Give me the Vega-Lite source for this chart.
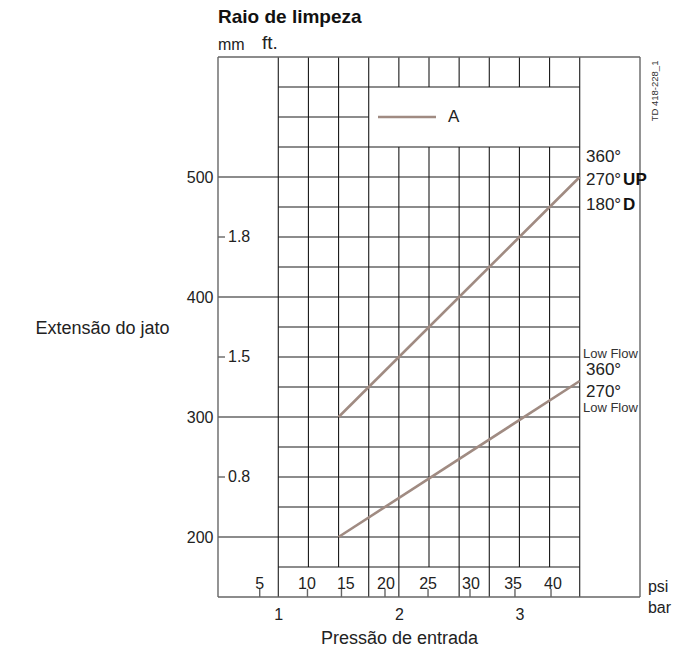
{
  "$schema": "https://vega.github.io/schema/vega-lite/v6.json",
  "width": 422,
  "height": 540,
  "autosize": {"type": "none"},
  "padding": {"left": 218, "top": 57, "right": 47, "bottom": 57},
  "background": "white",
  "config": {"view": {"stroke": null}, "font": "Liberation Sans"},
  "datasets": {
    "segments": [
      {"kind": "frame", "x1": 0.5, "x2": 4.0, "y1": 600, "y2": 600},
      {"kind": "frame", "x1": 0.5, "x2": 4.0, "y1": 150, "y2": 150},
      {"kind": "frame", "x1": 0.5, "x2": 0.5, "y1": 150, "y2": 600},
      {"kind": "frame", "x1": 4.0, "x2": 4.0, "y1": 150, "y2": 600},
      {"kind": "grid", "x1": 1.0, "x2": 3.5, "y1": 575, "y2": 575},
      {"kind": "grid", "x1": 1.0, "x2": 1.75, "y1": 550, "y2": 550},
      {"kind": "grid", "x1": 1.0, "x2": 3.5, "y1": 525, "y2": 525},
      {"kind": "grid", "x1": 0.5, "x2": 3.5, "y1": 500, "y2": 500},
      {"kind": "grid", "x1": 1.0, "x2": 3.5, "y1": 475, "y2": 475},
      {"kind": "grid", "x1": 1.0, "x2": 3.5, "y1": 450, "y2": 450},
      {"kind": "grid", "x1": 1.0, "x2": 3.5, "y1": 425, "y2": 425},
      {"kind": "grid", "x1": 0.5, "x2": 3.5, "y1": 400, "y2": 400},
      {"kind": "grid", "x1": 1.0, "x2": 3.5, "y1": 375, "y2": 375},
      {"kind": "grid", "x1": 1.0, "x2": 3.5, "y1": 350, "y2": 350},
      {"kind": "grid", "x1": 1.0, "x2": 3.5, "y1": 325, "y2": 325},
      {"kind": "grid", "x1": 0.5, "x2": 3.5, "y1": 300, "y2": 300},
      {"kind": "grid", "x1": 1.0, "x2": 3.5, "y1": 275, "y2": 275},
      {"kind": "grid", "x1": 1.0, "x2": 3.5, "y1": 250, "y2": 250},
      {"kind": "grid", "x1": 1.0, "x2": 3.5, "y1": 225, "y2": 225},
      {"kind": "grid", "x1": 0.5, "x2": 3.5, "y1": 200, "y2": 200},
      {"kind": "grid", "x1": 1.0, "x2": 3.5, "y1": 175, "y2": 175},
      {"kind": "grid", "x1": 1.0, "x2": 1.0, "y1": 150, "y2": 600},
      {"kind": "grid", "x1": 1.25, "x2": 1.25, "y1": 175, "y2": 600},
      {"kind": "grid", "x1": 1.5, "x2": 1.5, "y1": 175, "y2": 600},
      {"kind": "grid", "x1": 1.75, "x2": 1.75, "y1": 150, "y2": 600},
      {"kind": "grid", "x1": 2.0, "x2": 2.0, "y1": 150, "y2": 525},
      {"kind": "grid", "x1": 2.0, "x2": 2.0, "y1": 575, "y2": 600},
      {"kind": "grid", "x1": 2.25, "x2": 2.25, "y1": 175, "y2": 525},
      {"kind": "grid", "x1": 2.25, "x2": 2.25, "y1": 575, "y2": 600},
      {"kind": "grid", "x1": 2.5, "x2": 2.5, "y1": 150, "y2": 525},
      {"kind": "grid", "x1": 2.5, "x2": 2.5, "y1": 575, "y2": 600},
      {"kind": "grid", "x1": 2.75, "x2": 2.75, "y1": 150, "y2": 525},
      {"kind": "grid", "x1": 2.75, "x2": 2.75, "y1": 575, "y2": 600},
      {"kind": "grid", "x1": 3.0, "x2": 3.0, "y1": 175, "y2": 525},
      {"kind": "grid", "x1": 3.0, "x2": 3.0, "y1": 575, "y2": 600},
      {"kind": "grid", "x1": 3.25, "x2": 3.25, "y1": 175, "y2": 525},
      {"kind": "grid", "x1": 3.25, "x2": 3.25, "y1": 575, "y2": 600},
      {"kind": "grid", "x1": 3.5, "x2": 3.5, "y1": 150, "y2": 600},
      {"kind": "tick", "x1": 0.846, "x2": 0.846, "y1": 150, "y2": 156.7},
      {"kind": "tick", "x1": 1.242, "x2": 1.242, "y1": 150, "y2": 156.7},
      {"kind": "tick", "x1": 1.524, "x2": 1.524, "y1": 150, "y2": 156.7},
      {"kind": "tick", "x1": 1.885, "x2": 1.885, "y1": 150, "y2": 156.7},
      {"kind": "tick", "x1": 2.242, "x2": 2.242, "y1": 150, "y2": 156.7},
      {"kind": "tick", "x1": 2.59, "x2": 2.59, "y1": 150, "y2": 156.7},
      {"kind": "tick", "x1": 2.963, "x2": 2.963, "y1": 150, "y2": 156.7},
      {"kind": "tick", "x1": 3.262, "x2": 3.262, "y1": 150, "y2": 156.7},
      {"kind": "tick", "x1": 0.5, "x2": 0.558, "y1": 450, "y2": 450},
      {"kind": "tick", "x1": 0.5, "x2": 0.558, "y1": 350, "y2": 350},
      {"kind": "tick", "x1": 0.5, "x2": 0.558, "y1": 250, "y2": 250}
    ],
    "curves": [
      {"series": "A", "bar": 1.5, "mm": 300},
      {"series": "A", "bar": 3.5, "mm": 500},
      {"series": "Low Flow", "bar": 1.5, "mm": 200},
      {"series": "Low Flow", "bar": 3.5, "mm": 330},
      {"series": "legend", "bar": 1.827, "mm": 550},
      {"series": "legend", "bar": 2.308, "mm": 550}
    ],
    "notes": [
      {"style": "psi", "bar": 0.846, "mm": 160.8, "label": "5"},
      {"style": "psi", "bar": 1.238, "mm": 160.8, "label": "10"},
      {"style": "psi", "bar": 1.56, "mm": 160.8, "label": "15"},
      {"style": "psi", "bar": 1.893, "mm": 160.8, "label": "20"},
      {"style": "psi", "bar": 2.242, "mm": 160.8, "label": "25"},
      {"style": "psi", "bar": 2.598, "mm": 160.8, "label": "30"},
      {"style": "psi", "bar": 2.947, "mm": 160.8, "label": "35"},
      {"style": "psi", "bar": 3.278, "mm": 160.8, "label": "40"},
      {"style": "left", "bar": 0.583, "mm": 450, "label": "1.8"},
      {"style": "left", "bar": 0.583, "mm": 350, "label": "1.5"},
      {"style": "left", "bar": 0.583, "mm": 250, "label": "0.8"},
      {"style": "left", "bar": 4.066, "mm": 158.3, "label": "psi"},
      {"style": "left", "bar": 4.066, "mm": 140.8, "label": "bar"},
      {"style": "left", "bar": 0.5, "mm": 610, "label": "mm"},
      {"style": "ann", "bar": 2.408, "mm": 550, "label": "A"},
      {"style": "ann", "bar": 3.552, "mm": 516.7, "label": "360°"},
      {"style": "ann", "bar": 3.552, "mm": 497.5, "label": "270°"},
      {"style": "ann", "bar": 3.552, "mm": 476.7, "label": "180°"},
      {"style": "ann", "bar": 3.552, "mm": 339.2, "label": "360°"},
      {"style": "ann", "bar": 3.552, "mm": 320.8, "label": "270°"},
      {"style": "annbold", "bar": 3.86, "mm": 497.5, "label": "UP"},
      {"style": "annbold", "bar": 3.86, "mm": 476.7, "label": "D"},
      {"style": "small", "bar": 3.527, "mm": 352.5, "label": "Low Flow"},
      {"style": "small", "bar": 3.527, "mm": 307.5, "label": "Low Flow"},
      {"style": "ft", "bar": 0.865, "mm": 611.7, "label": "ft."},
      {"style": "title", "bar": 0.5, "mm": 633.3, "label": "Raio de limpeza"},
      {"style": "code", "bar": 4.124, "mm": 571.7, "label": "TD 418-228_1"}
    ]
  },
  "layer": [
    {
      "data": {"name": "segments"},
      "transform": [{"filter": "datum.kind === 'grid'"}],
      "mark": {"type": "rule", "color": "#1a1a1a", "strokeWidth": 1.1},
      "encoding": {
        "x": {
          "field": "x1", "type": "quantitative",
          "scale": {"domain": [0.5, 4.0], "nice": false, "zero": false},
          "axis": {
            "values": [1, 2, 3], "format": "d", "ticks": false, "domain": false, "grid": false,
            "labelFontSize": 16, "labelColor": "#222", "labelPadding": 9,
            "title": "Pressão de entrada", "titleFontSize": 18, "titleFontWeight": "normal",
            "titleColor": "#222", "titleX": 181, "titleY": 41, "titleBaseline": "middle",
            "titleAlign": "center"
          }
        },
        "x2": {"field": "x2"},
        "y": {
          "field": "y1", "type": "quantitative",
          "scale": {"domain": [150, 600], "nice": false, "zero": false},
          "axis": {
            "values": [200, 300, 400, 500], "ticks": false, "domain": false, "grid": false,
            "labelFontSize": 16, "labelColor": "#222", "labelPadding": 5,
            "title": "Extensão do jato", "titleFontSize": 18, "titleFontWeight": "normal",
            "titleColor": "#222", "titleAngle": 0, "titleAlign": "left",
            "titleBaseline": "middle", "titleX": -183, "titleY": 271
          }
        },
        "y2": {"field": "y2"}
      }
    },
    {
      "data": {"name": "segments"},
      "transform": [{"filter": "datum.kind !== 'grid'"}],
      "mark": {"type": "rule", "color": "#666", "strokeWidth": 1.4},
      "encoding": {
        "x": {"field": "x1", "type": "quantitative"},
        "x2": {"field": "x2"},
        "y": {"field": "y1", "type": "quantitative"},
        "y2": {"field": "y2"}
      }
    },
    {
      "data": {"name": "curves"},
      "mark": {"type": "line", "color": "#a08b82", "strokeWidth": 2.6},
      "encoding": {
        "x": {"field": "bar", "type": "quantitative"},
        "y": {"field": "mm", "type": "quantitative"},
        "detail": {"field": "series"}
      }
    },
    {
      "data": {"name": "notes"},
      "transform": [{"filter": "datum.style === 'psi'"}],
      "mark": {"type": "text", "fontSize": 16, "color": "#222", "align": "center", "baseline": "middle"},
      "encoding": {
        "x": {"field": "bar", "type": "quantitative"},
        "y": {"field": "mm", "type": "quantitative"},
        "text": {"field": "label"}
      }
    },
    {
      "data": {"name": "notes"},
      "transform": [{"filter": "datum.style === 'left'"}],
      "mark": {"type": "text", "fontSize": 16, "color": "#222", "align": "left", "baseline": "middle"},
      "encoding": {
        "x": {"field": "bar", "type": "quantitative"},
        "y": {"field": "mm", "type": "quantitative"},
        "text": {"field": "label"}
      }
    },
    {
      "data": {"name": "notes"},
      "transform": [{"filter": "datum.style === 'ann'"}],
      "mark": {"type": "text", "fontSize": 17, "color": "#222", "align": "left", "baseline": "middle"},
      "encoding": {
        "x": {"field": "bar", "type": "quantitative"},
        "y": {"field": "mm", "type": "quantitative"},
        "text": {"field": "label"}
      }
    },
    {
      "data": {"name": "notes"},
      "transform": [{"filter": "datum.style === 'annbold'"}],
      "mark": {"type": "text", "fontSize": 17, "fontWeight": "bold", "color": "#111", "align": "left", "baseline": "middle"},
      "encoding": {
        "x": {"field": "bar", "type": "quantitative"},
        "y": {"field": "mm", "type": "quantitative"},
        "text": {"field": "label"}
      }
    },
    {
      "data": {"name": "notes"},
      "transform": [{"filter": "datum.style === 'small'"}],
      "mark": {"type": "text", "fontSize": 13, "color": "#333", "align": "left", "baseline": "middle"},
      "encoding": {
        "x": {"field": "bar", "type": "quantitative"},
        "y": {"field": "mm", "type": "quantitative"},
        "text": {"field": "label"}
      }
    },
    {
      "data": {"name": "notes"},
      "transform": [{"filter": "datum.style === 'ft'"}],
      "mark": {"type": "text", "fontSize": 19, "color": "#222", "align": "left", "baseline": "middle"},
      "encoding": {
        "x": {"field": "bar", "type": "quantitative"},
        "y": {"field": "mm", "type": "quantitative"},
        "text": {"field": "label"}
      }
    },
    {
      "data": {"name": "notes"},
      "transform": [{"filter": "datum.style === 'title'"}],
      "mark": {"type": "text", "fontSize": 19, "fontWeight": "bold", "color": "#111", "align": "left", "baseline": "middle"},
      "encoding": {
        "x": {"field": "bar", "type": "quantitative"},
        "y": {"field": "mm", "type": "quantitative"},
        "text": {"field": "label"}
      }
    },
    {
      "data": {"name": "notes"},
      "transform": [{"filter": "datum.style === 'code'"}],
      "mark": {"type": "text", "fontSize": 9.5, "color": "#333", "align": "center", "baseline": "middle", "angle": 270},
      "encoding": {
        "x": {"field": "bar", "type": "quantitative"},
        "y": {"field": "mm", "type": "quantitative"},
        "text": {"field": "label"}
      }
    }
  ]
}
